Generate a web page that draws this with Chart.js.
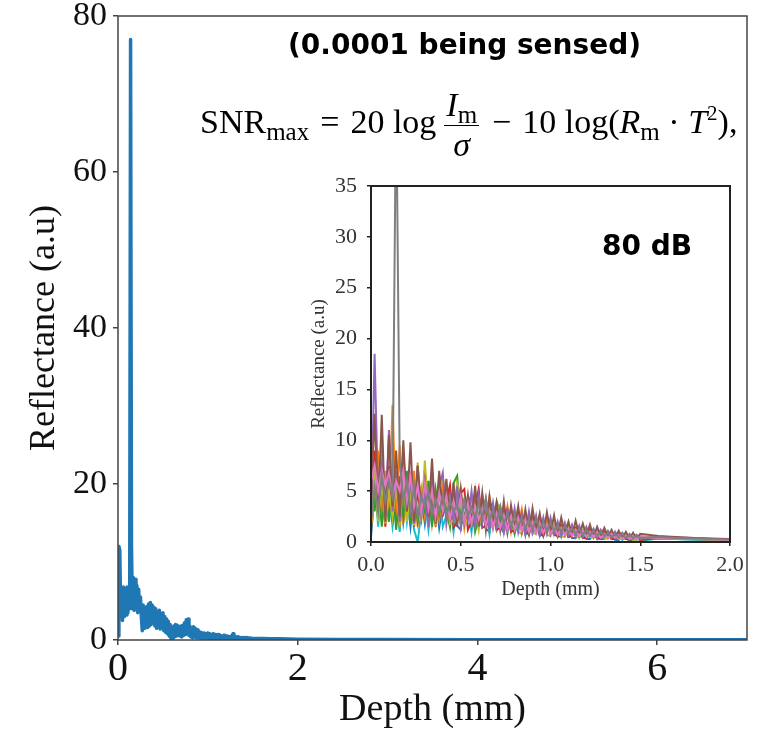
<!DOCTYPE html>
<html>
<head>
<meta charset="utf-8">
<script src="https://cdn.jsdelivr.net/npm/chart.js@4"></script>
<style>
  body { margin: 0; background: #fff; }
  #wrap { position: relative; width: 767px; height: 729px; overflow: hidden; }
  #main { position: absolute; left: 0; top: 0; }
  #inset { position: absolute; left: 290px; top: 170px; }
  .ann { position: absolute; white-space: nowrap; color: #000; }
  #sensed { left: 288px; top: 28px; font: bold 28px "DejaVu Sans", sans-serif; }
  #db { left: 602px; top: 229px; font: bold 28px "DejaVu Sans", sans-serif; }
  #snr { left: 200px; top: 88px; font: 34px "Liberation Serif", serif; line-height: 1; }
  #snr .sub { font-size: 25px; position: relative; top: 7px; }
  #snr sup { font-size: 21px; line-height: 0; }
  #snr .op { margin: 0 11px; }
  .frac { display: inline-block; vertical-align: middle; text-align: center; margin: 0 2px 0 8px; }
  .frac .num { display: block; border-bottom: 1.5px solid #000; padding: 0 2px 3px; }
  .frac .den { display: block; padding-top: 2px; }
</style>
</head>
<body>
<div id="wrap">
  <canvas id="main" width="767" height="729"></canvas>
  <canvas id="inset" width="460" height="440"></canvas>
  <div class="ann" id="sensed">(0.0001 being sensed)</div>
  <div class="ann" id="snr">SNR<span class="sub">max</span><span class="op">=</span>20 log<span class="frac"><span class="num"><i>I</i><span class="sub">m</span></span><span class="den"><i>σ</i></span></span><span class="op">−</span>10 log(<i>R</i><span class="sub">m</span> · <i>T</i><sup>2</sup>),</div>
  <div class="ann" id="db">80 dB</div>
</div>
<script>
// ─── main A-scan: 0.01 mm samples up to 1.5 mm, then a sparse tail ───
var MAIN_STEP = 0.01;
var MAIN_FINE = [
  0.5, 12, 11.5, 3, 6.5, 2.5, 6.8, 3, 6.5, 3.2,
  6.8, 3.5, 6, 4, 77, 12, 4, 8, 3.8, 7.8,
  4, 7, 3.5, 6.5, 3.8, 5.5, 3, 1.2, 4.5, 1.5,
  4, 1.8, 4.3, 1.6, 4.6, 1.8, 4.8, 2, 4.5, 2.2,
  4.2, 1.8, 4, 1.5, 3.6, 1.7, 3.8, 1.4, 3.3, 1.6,
  3.5, 1.2, 3, 1.0, 2.7, 0.8, 2.4, 0.5, 2, 0.2,
  1.6, 0.1, 1.8, 0.4, 2, 0.5, 1.9, 0.6, 1.7, 0.5,
  1.8, 0.4, 1.9, 0.6, 2.2, 0.7, 2.6, 0.8, 2.7, 0.6,
  1.8, 0.4, 1.5, 0.3, 1.7, 0.4, 1.5, 0.3, 1.3, 0.3,
  1.1, 0.3, 1.0, 0.2, 0.9, 0.3, 0.9, 0.2, 0.8, 0.3,
  0.9, 0.2, 0.8, 0.2, 0.7, 0.2, 0.8, 0.2, 0.7, 0.1,
  0.6, 0.2, 0.7, 0.2, 0.6, 0.1, 0.5, 0.2, 0.6, 0.1,
  0.5, 0.1, 0.5, 0.1, 0.4, 0.1, 0.5, 0.1, 0.8, 0.1,
  0.4, 0.1, 0.4, 0.1, 0.4, 0.1, 0.3, 0.1, 0.3, 0.1,
  0.3, 0.1, 0.3, 0.05, 0.3, 0.05, 0.25, 0.05, 0.25, 0.05,
  0.2
];
var MAIN_TAIL_DEPTH = [1.6, 1.7, 1.8, 2.0, 2.5, 3, 4, 5, 6, 7];
var MAIN_TAIL = [0.2, 0.15, 0.15, 0.1, 0.06, 0.05, 0.03, 0.02, 0.02, 0.02];
var MAIN_XTICKS = [0, 2, 4, 6];
var MAIN_YTICKS = [0, 20, 40, 60, 80];

// ─── inset: ten repeated scans, 0.02 mm steps to 1.5 mm, then 0.1 mm ───
var INSET_DEPTH = [
  0, 0.02, 0.04, 0.06, 0.08, 0.10, 0.12, 0.14, 0.16, 0.18,
  0.20, 0.22, 0.24, 0.26, 0.28, 0.30, 0.32, 0.34, 0.36, 0.38,
  0.40, 0.42, 0.44, 0.46, 0.48, 0.50, 0.52, 0.54, 0.56, 0.58,
  0.60, 0.62, 0.64, 0.66, 0.68, 0.70, 0.72, 0.74, 0.76, 0.78,
  0.80, 0.82, 0.84, 0.86, 0.88, 0.90, 0.92, 0.94, 0.96, 0.98,
  1.00, 1.02, 1.04, 1.06, 1.08, 1.10, 1.12, 1.14, 1.16, 1.18,
  1.20, 1.22, 1.24, 1.26, 1.28, 1.30, 1.32, 1.34, 1.36, 1.38,
  1.40, 1.42, 1.44, 1.46, 1.48, 1.50,
  1.6, 1.7, 1.8, 1.9, 2.0
];
var SCAN_GRAY = [
  2, 5.5, 3, 6.5, 4, 6, 4.5, 45, 8, 4,
  6, 3, 5.5, 2.5, 4.5, 3.5, 5, 2.8, 4.2, 3,
  4.6, 2.5, 4, 3, 3.6, 2.2, 4.2, 2.6, 3.4, 2.4,
  3.8, 2.4, 4.3, 2.2, 3.2, 2, 3.4, 1.8, 2.8, 1.6,
  2.6, 1.5, 2.4, 1.4, 2.2, 1.3, 2.3, 1.2, 2, 1.1,
  1.9, 1.1, 1.7, 1, 1.6, 0.9, 1.4, 0.8, 1.3, 0.7,
  1.2, 0.7, 1.1, 0.6, 1, 0.6, 0.9, 0.5, 0.8, 0.5,
  0.8, 0.4, 0.7, 0.4, 0.6, 0.4,
  0.5, 0.4, 0.35, 0.3, 0.25
];
var SCAN_PINK = [
  6, 7.5, 5, 7, 5.5, 6.8, 4.5, 6, 5, 7,
  4, 6.5, 3.5, 5.5, 3, 5.8, 3.2, 5, 2.5, 4.8,
  3, 4.5, 2.2, 4, 2.6, 4.4, 2, 3.8, 1.8, 3.5,
  2.2, 3.2, 1.6, 3, 1.5, 2.8, 1.4, 2.6, 1.2, 2.5,
  1.2, 2.4, 1.1, 2.2, 1, 2, 0.9, 1.8, 0.9, 1.7,
  0.8, 1.5, 0.7, 1.4, 0.7, 1.3, 0.6, 1.2, 0.6, 1.1,
  0.5, 1, 0.5, 0.9, 0.4, 0.8, 0.4, 0.8, 0.4, 0.7,
  0.3, 0.6, 0.3, 0.6, 0.3, 0.5,
  0.4, 0.35, 0.3, 0.25, 0.2
];
var SCAN_BROWN = [
  4, 12.6, 3, 12.5, 2, 10.5, 3.5, 9, 2.5, 10,
  3, 9.8, 2, 7.5, 3, 6, 2.5, 8.2, 1.8, 7,
  2.5, 6.2, 2, 5.8, 1.5, 5.2, 2, 4.6, 1.8, 5.5,
  1.5, 4.8, 1.2, 4.4, 1.5, 3.8, 1.2, 4, 1, 3.6,
  1.4, 3.5, 1, 3.2, 0.9, 3.3, 1.1, 2.8, 0.8, 2.9,
  0.9, 2.6, 0.7, 2.4, 0.8, 2, 0.6, 2.1, 0.7, 1.8,
  0.6, 1.7, 0.5, 1.5, 0.6, 1.4, 0.5, 1.2, 0.4, 1.1,
  0.4, 1, 0.3, 0.9, 0.3, 0.8,
  0.6, 0.5, 0.4, 0.35, 0.3
];
var SCAN_PURPLE = [
  2, 18.5, 4, 8, 2.5, 11, 3, 7, 2, 9,
  3, 6, 1.8, 7.5, 2.5, 5, 1.5, 7, 2, 5.5,
  6.8, 1.8, 4.5, 2.2, 5.5, 1.5, 4, 2.2, 5, 1.6,
  4.6, 2, 4.2, 1.3, 3.8, 1.5, 3.4, 1, 3.2, 1.4,
  3.3, 1, 2.8, 0.8, 3, 1, 2.6, 0.7, 2.4, 0.8,
  2.4, 0.8, 2, 0.6, 1.9, 0.7, 1.7, 0.5, 1.6, 0.5,
  1.5, 0.6, 1.3, 0.4, 1.2, 0.5, 1.1, 0.4, 1, 0.4,
  0.9, 0.4, 0.8, 0.3, 0.7, 0.3,
  0.55, 0.45, 0.4, 0.3, 0.3
];
var SCAN_OLIVE = [
  1.5, 7, 2, 6, 1.8, 5, 2.4, 5.5, 1.5, 6.5,
  2, 5, 1.6, 7.8, 2, 8, 2.2, 6, 1.6, 5.2,
  6.2, 4.8, 1.8, 2.2, 5.8, 4.5, 1.6, 2.4, 4, 3.4,
  1.2, 4.4, 3.5, 1.8, 1.5, 3.2, 3.6, 1.1, 1.3, 2.6,
  2.8, 1, 0.8, 2.5, 2.1, 0.9, 0.8, 2.4, 1.9, 0.7,
  0.6, 1.8, 1.6, 0.6, 0.5, 1.5, 1.3, 0.6, 0.4, 1.2,
  1.1, 0.5, 0.4, 1, 0.9, 0.4, 0.3, 0.8, 0.8, 0.3,
  0.3, 0.7, 0.6, 0.2, 0.2, 0.6,
  0.4, 0.35, 0.3, 0.25, 0.2
];
var SCAN_RED = [
  3, 9, 2, 6, 1.5, 7.5, 2, 6, 1.5, 8,
  2.8, 6, 1.5, 5, 2.4, 7, 2, 5, 1.5, 6.5,
  2.8, 4, 5.6, 1.4, 2, 4.8, 5.2, 1.2, 2, 3.5,
  5.2, 1.4, 1.6, 3.8, 3.6, 1.2, 1.4, 3, 3.2, 1,
  1.2, 2.5, 2.6, 0.9, 0.8, 2.2, 1.8, 0.8, 0.6, 1.6,
  1.9, 0.7, 0.6, 1.7, 1.5, 0.5, 0.6, 1.4, 1.3, 0.4,
  0.4, 1.2, 1.1, 0.4, 0.3, 1, 0.9, 0.3, 0.3, 0.8,
  0.7, 0.3, 0.2, 0.7, 0.6, 0.2,
  0.45, 0.4, 0.3, 0.3, 0.2
];
var SCAN_GREEN = [
  8, 3, 6, 1.5, 5, 2, 6.5, 1.2, 5, 2.5,
  7, 1.8, 5.5, 2, 4.5, 3, 6, 1.5, 5.2, 2.8,
  4.5, 3.2, 1.5, 5.8, 6.5, 2, 1.8, 4.5, 3.8, 1,
  2.4, 4.5, 3.2, 1.4, 1.8, 4, 2.8, 1.2, 3, 2.2,
  0.8, 2.6, 2.2, 1.3, 0.7, 2.4, 1.8, 1, 0.6, 1.6,
  1.7, 1.2, 0.6, 1.5, 1.3, 0.5, 0.7, 1.4, 1.1, 0.4,
  0.5, 1, 0.9, 0.3, 0.4, 0.9, 0.8, 0.3, 0.4, 0.7,
  0.6, 0.3, 0.2, 0.6, 0.5, 0.2,
  0.4, 0.3, 0.3, 0.25, 0.2
];
var SCAN_ORANGE = [
  1.5, 4, 9, 2.5, 7, 3, 13.5, 2, 9.5, 1.8,
  6, 2.5, 7, 1.5, 5.2, 2.5, 6, 1.8, 4.5, 2.2,
  5.5, 3, 1.6, 4.2, 2.6, 5, 1.4, 3.8, 2, 5,
  1.5, 3.4, 1.8, 4.5, 2.4, 1.2, 3, 1.6, 3.5, 1,
  2.8, 1.5, 3.2, 0.9, 2.4, 1.6, 1.2, 2.1, 0.8, 2,
  0.9, 1.7, 0.6, 1.6, 1.1, 0.7, 1.5, 0.5, 1.4, 0.9,
  0.6, 1.2, 0.5, 1.1, 0.7, 0.4, 1, 0.5, 0.8, 0.4,
  0.7, 0.3, 0.6, 0.4, 0.3, 0.5,
  0.4, 0.35, 0.3, 0.25, 0.2
];
var SCAN_CYAN = [
  2, 6, 1.5, 10, 2, 5, 1.5, 4, 1, 6,
  2, 5, 1.2, 0, 3, 4.5, 1.2, 4, 2, 5,
  1.5, 2.6, 3.8, 1, 4.4, 1.8, 2.5, 3.6, 1, 4,
  1.5, 2, 3.2, 0.8, 3.6, 1.2, 2, 2.8, 0.9, 3,
  1, 1.6, 2.4, 0.7, 2.6, 0.8, 1.4, 2, 0.6, 1.9,
  0.7, 1.1, 1.6, 0.5, 1.5, 0.5, 0.9, 1.2, 0.4, 1.1,
  0.4, 0.7, 1, 0.3, 0.9, 0.3, 0.6, 0.8, 0.2, 0.7,
  0.2, 0.5, 0.6, 0.2, 0.5, 0.1,
  0.35, 0.3, 0.25, 0.2, 0.15
];
var SCAN_BLUE = [
  0.5, 5, 8, 3, 6, 2, 5.5, 3, 6.5, 2,
  4.8, 1.5, 5, 2.2, 4.4, 1.8, 5.2, 2, 4.6, 1.4,
  3.8, 2.5, 4.8, 3.5, 1.6, 1.2, 4, 3.5, 2, 1.5,
  4.2, 3.1, 1.3, 1, 2.8, 3.2, 1.5, 0.9, 2.6, 2.2,
  1.2, 2.8, 2.2, 0.8, 1, 2, 1.8, 0.6, 0.8, 1.5,
  1.5, 1.3, 0.5, 0.6, 1.2, 1.1, 0.4, 0.4, 1, 0.9,
  0.3, 0.3, 0.9, 0.8, 0.3, 0.3, 0.8, 0.7, 0.2, 0.2,
  0.6, 0.5, 0.2, 0.2, 0.5, 0.4,
  0.35, 0.3, 0.25, 0.2, 0.2
];
var INSET_XTICKS = [0, 0.5, 1.0, 1.5, 2.0];
var INSET_YTICKS = [0, 5, 10, 15, 20, 25, 30, 35];

// first dataset draws on top in Chart.js, so gray/pink lead
var INSET_SCANS = [
  { data: SCAN_GRAY, color: '#7f7f7f' },
  { data: SCAN_PINK, color: '#e377c2' },
  { data: SCAN_BROWN, color: '#8c564b' },
  { data: SCAN_PURPLE, color: '#9467bd' },
  { data: SCAN_OLIVE, color: '#bcbd22' },
  { data: SCAN_RED, color: '#d62728' },
  { data: SCAN_GREEN, color: '#2ca02c' },
  { data: SCAN_ORANGE, color: '#ff7f0e' },
  { data: SCAN_CYAN, color: '#17becf' },
  { data: SCAN_BLUE, color: '#1f77b4' }
];

function mainPoints() {
  var pts = MAIN_FINE.map(function(v, i) { return { x: +(i * MAIN_STEP).toFixed(2), y: v }; });
  MAIN_TAIL_DEPTH.forEach(function(d, i) { pts.push({ x: d, y: MAIN_TAIL[i] }); });
  return pts;
}

function pair(xs, ys) {
  return ys.map(function(v, i) { return { x: xs[i], y: v }; });
}

// closed box round the plot area, like matplotlib's spines
function framePlugin(color, width) {
  return {
    id: 'frame',
    afterDatasetsDraw: function(chart) {
      var a = chart.chartArea, c = chart.ctx;
      c.save();
      c.strokeStyle = color;
      c.lineWidth = width;
      c.strokeRect(a.left, a.top, a.right - a.left, a.bottom - a.top);
      c.restore();
    }
  };
}

function fixedTicks(list) {
  return function(scale) { scale.ticks = list.map(function(v) { return { value: v }; }); };
}

// pin the axis box and drop the label overhang padding
function fixY(w) {
  return function(s) { s.width = w; s.paddingTop = 0; s.paddingBottom = 0; };
}
function fixX(h) {
  return function(s) { s.height = h; s.paddingLeft = 0; s.paddingRight = 0; };
}

var SERIF = "'Liberation Serif', 'Times New Roman', serif";

new Chart(document.getElementById('main'), {
  type: 'line',
  data: {
    datasets: [{
      data: mainPoints(),
      borderColor: '#1f77b4',
      borderWidth: 3.5,
      borderJoinStyle: 'round',
      pointRadius: 0,
      tension: 0
    }]
  },
  options: {
    responsive: false,
    animation: false,
    devicePixelRatio: 1,
    layout: { padding: { top: 16, right: 20, left: 0, bottom: 0 } },
    plugins: { legend: { display: false }, tooltip: { enabled: false } },
    scales: {
      x: {
        type: 'linear', min: 0, max: 7,
        afterBuildTicks: fixedTicks(MAIN_XTICKS),
        afterFit: fixX(89),
        grid: { drawOnChartArea: false, drawTicks: true, tickLength: 5, color: '#444', lineWidth: 1.5 },
        border: { display: false },
        ticks: { color: '#111', padding: 0, maxRotation: 0, font: { family: SERIF, size: 40 } },
        title: { display: true, text: 'Depth (mm)', color: '#111', font: { family: SERIF, size: 38, lineHeight: 1 }, padding: { top: 0, bottom: 0 } }
      },
      y: {
        min: 0, max: 80,
        afterBuildTicks: fixedTicks(MAIN_YTICKS),
        afterFit: fixY(118),
        grid: { drawOnChartArea: false, drawTicks: true, tickLength: 5, color: '#444', lineWidth: 1.5 },
        border: { display: false },
        ticks: { color: '#111', padding: 6, font: { family: SERIF, size: 34 } },
        title: { display: true, text: 'Reflectance (a.u)', color: '#111', font: { family: SERIF, size: 36, lineHeight: 1 }, padding: { top: 27, bottom: 0 } }
      }
    }
  },
  plugins: [framePlugin('#444', 1.5)]
});

new Chart(document.getElementById('inset'), {
  type: 'line',
  data: {
    datasets: INSET_SCANS.map(function(s) {
      return {
        data: pair(INSET_DEPTH, s.data),
        borderColor: s.color,
        borderWidth: 2,
        pointRadius: 0,
        tension: 0
      };
    })
  },
  options: {
    responsive: false,
    animation: false,
    devicePixelRatio: 1,
    layout: { padding: { top: 16, right: 20, left: 0, bottom: 0 } },
    plugins: { legend: { display: false }, tooltip: { enabled: false } },
    scales: {
      x: {
        type: 'linear', min: 0, max: 2,
        afterBuildTicks: fixedTicks(INSET_XTICKS),
        afterFit: fixX(68),
        grid: { drawOnChartArea: false, drawTicks: true, tickLength: 4, color: '#222', lineWidth: 1.5 },
        border: { display: false },
        ticks: { color: '#333', padding: 6, maxRotation: 0, font: { family: SERIF, size: 22 },
                 callback: function(v) { return v.toFixed(1); } },
        title: { display: true, text: 'Depth (mm)', color: '#333', font: { family: SERIF, size: 20, lineHeight: 1 }, padding: { top: 0, bottom: 10 } }
      },
      y: {
        min: 0, max: 35,
        afterBuildTicks: fixedTicks(INSET_YTICKS),
        afterFit: fixY(81),
        grid: { drawOnChartArea: false, drawTicks: true, tickLength: 4, color: '#222', lineWidth: 1.5 },
        border: { display: false },
        ticks: { color: '#333', padding: 10, font: { family: SERIF, size: 22 } },
        title: { display: true, text: 'Reflectance (a.u)', color: '#333', font: { family: SERIF, size: 19, lineHeight: 1 }, padding: { top: 20, bottom: 0 } }
      }
    }
  },
  plugins: [framePlugin('#222', 2)]
});
</script>
</body>
</html>
